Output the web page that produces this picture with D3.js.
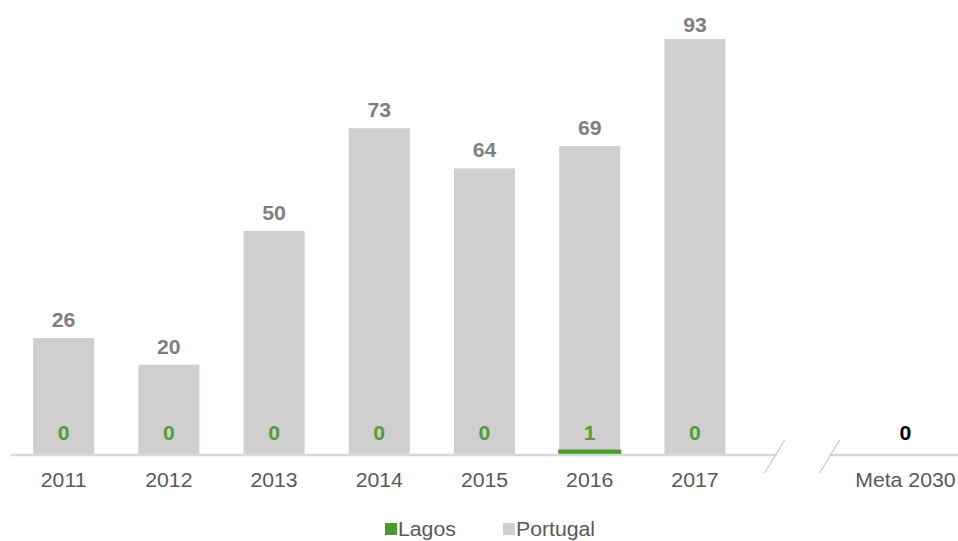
<!DOCTYPE html>
<html>
<head>
<meta charset="utf-8">
<script src="https://cdn.jsdelivr.net/npm/d3@7"></script>
<style>
  html, body { margin: 0; padding: 0; background: #fff; }
  svg { display: block; font-family: "Liberation Sans", Arial, sans-serif; }
</style>
</head>
<body>
<svg id="chart" width="958" height="541"></svg>
<script>
// Years plus an empty slot for the axis break and the 2030 target
const categories = ["2011", "2012", "2013", "2014", "2015", "2016", "2017", "", "Meta 2030"];
const portugal = [26, 20, 50, 73, 64, 69, 93, null, null];
const lagos = [0, 0, 0, 0, 0, 1, 0, null, null];
const metaCategory = "Meta 2030";
const metaValue = 0;
const legendItems = ["Lagos", "Portugal"];

const colors = { Lagos: "#4c9a2e", Portugal: "#d0cece" };
const lagosText = "#4e9f35";
const portugalText = "#7f7f7f";
const axisText = "#595959";

const FS = 19.5;      // font size
const SX = 1.09;      // slight horizontal widening of the text

const svg = d3.select("#chart");
const W = 958;
const baseY = 454;

const x = d3.scaleBand().domain(categories).range([11, 958]).paddingInner(0.42).paddingOuter(0.21);
const y = d3.scaleLinear().domain([0, 93]).range([baseY, 39]);
const cx = c => x(c) + x.bandwidth() / 2;

const rows = categories.map((c, i) => ({ cat: c, portugal: portugal[i], lagos: lagos[i] }));

// place a text at (px, py) with the widening applied
const place = (px, py) => `translate(${px},${py}) scale(${SX},1)`;

// Portugal bars
svg.append("g").selectAll("rect")
  .data(rows.filter(d => d.portugal != null))
  .join("rect")
  .attr("x", d => x(d.cat))
  .attr("width", x.bandwidth())
  .attr("y", d => y(d.portugal))
  .attr("height", d => y(0) - y(d.portugal))
  .attr("fill", colors.Portugal);

// Lagos bars (overlaid)
svg.append("g").selectAll("rect")
  .data(rows.filter(d => d.lagos != null && d.lagos > 0))
  .join("rect")
  .attr("x", d => x(d.cat) - 1)
  .attr("width", x.bandwidth() + 2)
  .attr("y", d => y(d.lagos))
  .attr("height", d => y(0) - y(d.lagos))
  .attr("fill", colors.Lagos);

// Category labels
const axis = d3.axisBottom(x).tickSize(0).tickPadding(0);
const gAxis = svg.append("g").attr("transform", `translate(0,${baseY + 1})`).call(axis);
gAxis.select(".domain").remove();
gAxis.selectAll("text")
  .attr("dy", 0)
  .attr("y", 0)
  .attr("transform", place(0, 31.5))
  .attr("fill", axisText)
  .attr("font-size", FS)
  .attr("font-family", "Liberation Sans, Arial, sans-serif");

// Axis line with a break before the target
const breakMid = cx("") + 3;
const breakA = breakMid - 27.5;
const breakB = breakMid + 27.5;
svg.append("line").attr("x1", 11).attr("x2", breakA + 1).attr("y1", baseY + 1).attr("y2", baseY + 1)
  .attr("stroke", "#d9d9d9").attr("stroke-width", 2.5);
svg.append("line").attr("x1", breakB - 1).attr("x2", W).attr("y1", baseY + 1).attr("y2", baseY + 1)
  .attr("stroke", "#d9d9d9").attr("stroke-width", 2.5);
[breakA, breakB].forEach(bx => {
  svg.append("line")
    .attr("x1", bx - 11).attr("y1", 473)
    .attr("x2", bx + 9).attr("y2", 440)
    .attr("stroke", "#c8c8c8").attr("stroke-width", 1.2);
});

// Portugal value labels (kept inside the top of the plot)
svg.append("g").selectAll("text")
  .data(rows.filter(d => d.portugal != null))
  .join("text")
  .attr("transform", d => place(cx(d.cat), Math.max(y(d.portugal) - 11, 32)))
  .attr("text-anchor", "middle")
  .attr("font-size", FS)
  .attr("font-weight", "bold")
  .attr("fill", portugalText)
  .text(d => d.portugal);

// Lagos value labels
svg.append("g").selectAll("text")
  .data(rows.filter(d => d.lagos != null))
  .join("text")
  .attr("transform", d => place(cx(d.cat), 440))
  .attr("text-anchor", "middle")
  .attr("font-size", FS)
  .attr("font-weight", "bold")
  .attr("fill", lagosText)
  .text(d => d.lagos);

// Target value
svg.append("text")
  .attr("transform", place(cx(metaCategory), 440))
  .attr("text-anchor", "middle")
  .attr("font-size", FS)
  .attr("font-weight", "bold")
  .attr("fill", "#000")
  .text(metaValue);

// Legend
const legendX = { Lagos: 385, Portugal: 503 };
const legend = svg.append("g");
legendItems.forEach(name => {
  const g = legend.append("g").attr("transform", `translate(${legendX[name]},0)`);
  g.append("rect").attr("x", 0).attr("y", 523).attr("width", 12).attr("height", 12).attr("fill", colors[name]);
  g.append("text").attr("transform", place(13, 536)).attr("font-size", FS).attr("fill", axisText).text(name);
});
</script>
</body>
</html>
